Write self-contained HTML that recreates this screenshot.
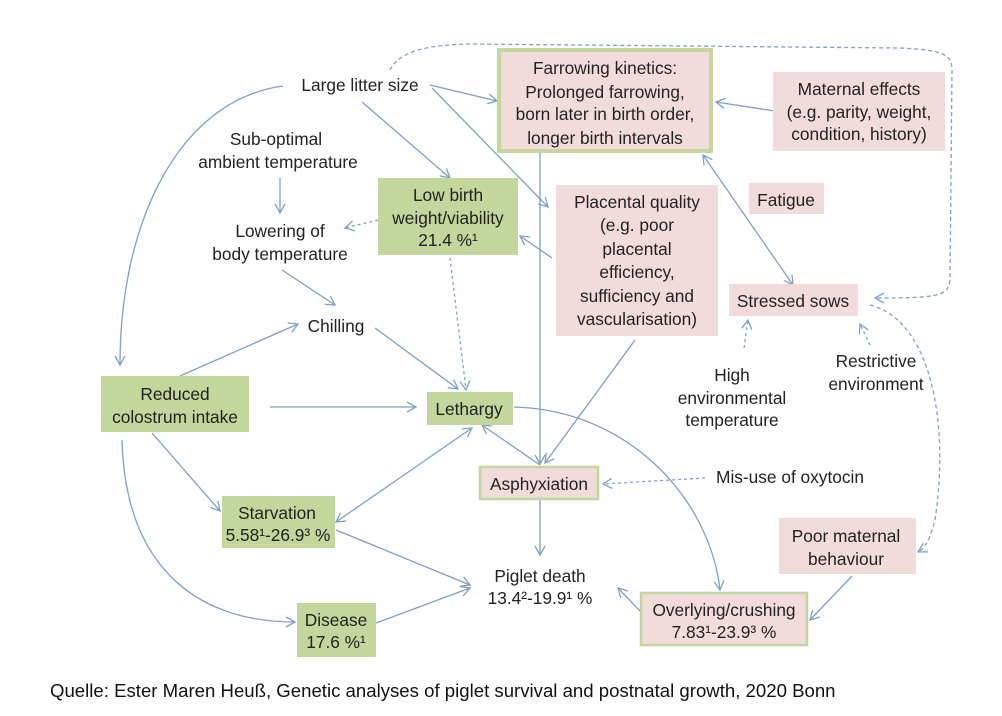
<!DOCTYPE html>
<html><head><meta charset="utf-8"><style>
body{margin:0;background:#fff;}
svg{display:block;font-family:"Liberation Sans",sans-serif;}
text{font-size:17.3px;fill:#222;text-anchor:middle;}
</style></head><body>
<svg width="1002" height="716" viewBox="0 0 1002 716">
<defs>
<marker id="a" markerWidth="12" markerHeight="12" refX="10" refY="6" orient="auto-start-reverse" markerUnits="userSpaceOnUse">
<path d="M1,1 L10,6 L1,11" fill="none" stroke="#7f9fc4" stroke-width="1.3"/></marker>
</defs>
<g fill="none" stroke="#7f9fc4" stroke-width="1.3">
<path d="M390,70 C400,50 430,45 470,44 L900,48 C945,50 952,55 952,70 L950,280 C948,296 940,298 875,298" stroke-dasharray="4,3" marker-end="url(#a)"/>
<path d="M870,305 C930,320 950,420 935,520 C930,540 925,548 918,552" stroke-dasharray="4,3" marker-end="url(#a)"/>
<path d="M870,345 L860,324" stroke-dasharray="3,3" marker-end="url(#a)"/>
<path d="M744,348 L748,320" stroke-dasharray="3,3" marker-end="url(#a)"/>
<path d="M705,478 L603,484" stroke-dasharray="3,3" marker-end="url(#a)"/>
<path d="M378,220 L345,228" stroke-dasharray="3,3" marker-end="url(#a)"/>
<path d="M450,258 L466,390" stroke-dasharray="3,3" marker-end="url(#a)"/>
<path d="M430,85 L497,101" marker-end="url(#a)"/>
<path d="M432,88 L548,207" marker-end="url(#a)"/>
<path d="M362,102 L450,178" marker-end="url(#a)"/>
<path d="M552,258 L520,236" marker-end="url(#a)"/>
<path d="M775,111 L716,102" marker-end="url(#a)"/>
<path d="M703,155 L793,285" marker-start="url(#a)" marker-end="url(#a)"/>
<path d="M283,86 C180,100 120,220 120,365" marker-end="url(#a)"/>
<path d="M280,178 L280,213" marker-end="url(#a)"/>
<path d="M282,270 L335,305" marker-end="url(#a)"/>
<path d="M375,328 L458,389" marker-end="url(#a)"/>
<path d="M180,376 L298,324" marker-end="url(#a)"/>
<path d="M270,407 L416,407" marker-end="url(#a)"/>
<path d="M152,433 L220,511" marker-end="url(#a)"/>
<path d="M122,440 C125,560 190,622 295,622" marker-end="url(#a)"/>
<path d="M540,153 L540,464" marker-end="url(#a)"/>
<path d="M635,340 L545,463" marker-end="url(#a)"/>
<path d="M482,425 L540,465" marker-start="url(#a)"/>
<path d="M472,428 L336,522" marker-start="url(#a)" marker-end="url(#a)"/>
<path d="M514,407 C630,410 710,500 720,590" marker-end="url(#a)"/>
<path d="M336,530 L470,585" marker-end="url(#a)"/>
<path d="M376,623 L470,588" marker-end="url(#a)"/>
<path d="M540,500 L540,555" marker-end="url(#a)"/>
<path d="M641,612 L618,588" marker-end="url(#a)"/>
<path d="M852,576 L810,620" marker-end="url(#a)"/>
</g>
<rect x="499" y="50" width="212" height="101" fill="#f2dcdb" stroke="#c3d69b" stroke-width="4"/>
<rect x="773" y="72" width="172" height="79" fill="#f2dcdb"/>
<rect x="378" y="178" width="140" height="77" fill="#c3d69b"/>
<rect x="556" y="185" width="162" height="151" fill="#f2dcdb"/>
<rect x="749" y="183" width="75" height="31" fill="#f2dcdb"/>
<rect x="729" y="284" width="129" height="32" fill="#f2dcdb"/>
<rect x="101" y="376" width="148" height="56" fill="#c3d69b"/>
<rect x="427" y="392" width="86" height="33" fill="#c3d69b"/>
<rect x="480" y="467" width="118" height="32" fill="#f2dcdb" stroke="#c3d69b" stroke-width="2.5"/>
<rect x="222" y="496" width="113" height="52" fill="#c3d69b"/>
<rect x="779" y="518" width="137" height="56" fill="#f2dcdb"/>
<rect x="641" y="593" width="166" height="52" fill="#f2dcdb" stroke="#c3d69b" stroke-width="2.5"/>
<rect x="297" y="603" width="79" height="54" fill="#c3d69b"/>
<text x="360" y="91">Large litter size</text>
<text x="605" y="74">Farrowing kinetics:</text>
<text x="605" y="98">Prolonged farrowing,</text>
<text x="605" y="120">born later in birth order,</text>
<text x="605" y="144">longer birth intervals</text>
<text x="859" y="95">Maternal effects</text>
<text x="859" y="118">(e.g. parity, weight,</text>
<text x="859" y="140">condition, history)</text>
<text x="276" y="145">Sub-optimal</text>
<text x="278" y="168">ambient temperature</text>
<text x="448" y="201">Low birth</text>
<text x="448" y="224">weight/viability</text>
<text x="448" y="246">21.4 %¹</text>
<text x="637" y="208">Placental quality</text>
<text x="637" y="231">(e.g. poor</text>
<text x="637" y="255">placental</text>
<text x="637" y="278">efficiency,</text>
<text x="637" y="302">sufficiency and</text>
<text x="637" y="325">vascularisation)</text>
<text x="786" y="206">Fatigue</text>
<text x="793" y="307">Stressed sows</text>
<text x="280" y="237">Lowering of</text>
<text x="280" y="260">body temperature</text>
<text x="336" y="332">Chilling</text>
<text x="175" y="400">Reduced</text>
<text x="175" y="423">colostrum intake</text>
<text x="469" y="415">Lethargy</text>
<text x="732" y="381">High</text>
<text x="732" y="404">environmental</text>
<text x="732" y="426">temperature</text>
<text x="876" y="367">Restrictive</text>
<text x="876" y="390">environment</text>
<text x="539" y="490">Asphyxiation</text>
<text x="790" y="483">Mis-use of oxytocin</text>
<text x="277" y="519">Starvation</text>
<text x="278" y="541">5.58¹-26.9³ %</text>
<text x="846" y="542">Poor maternal</text>
<text x="846" y="565">behaviour</text>
<text x="540" y="582">Piglet death</text>
<text x="540" y="604">13.4²-19.9¹ %</text>
<text x="724" y="616">Overlying/crushing</text>
<text x="724" y="638">7.83¹-23.9³ %</text>
<text x="336" y="626">Disease</text>
<text x="336" y="648">17.6 %¹</text>
<text x="50" y="697" style="text-anchor:start;font-size:18.6px;fill:#111">Quelle: Ester Maren Heuß, Genetic analyses of piglet survival and postnatal growth, 2020 Bonn</text>
</svg>
</body></html>
